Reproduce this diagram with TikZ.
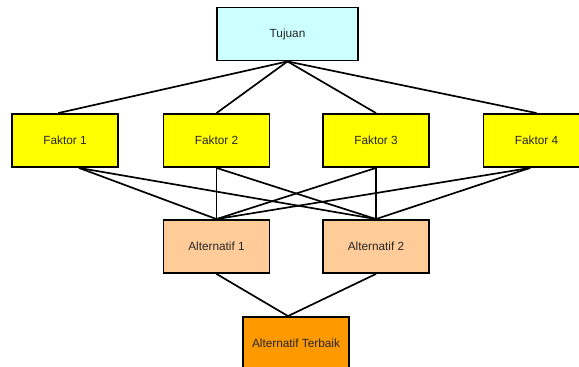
\documentclass[tikz,border=0pt]{standalone}
\usepackage{fontspec}
\setmainfont{Liberation Sans}
\definecolor{tujuanfill}{RGB}{204,255,255}
\definecolor{faktorfill}{RGB}{255,255,0}
\definecolor{altfill}{RGB}{255,204,153}
\definecolor{terbaikfill}{RGB}{255,153,0}

\begin{document}
\begin{tikzpicture}[x=0.025cm,y=-0.025cm,
    kotak/.style={draw=black,line width=1.3pt,minimum width=2.65cm,minimum height=1.325cm,
      inner sep=0pt,font=\fontsize{8.4}{10}\selectfont,text=black!85},
    garis/.style={line width=1.2pt}]
      \useasboundingbox (0,0) rectangle (579,367);

      \node[kotak,fill=tujuanfill,minimum width=3.525cm] (tujuan) at (287.5,34) {Tujuan};
      \node[kotak,fill=faktorfill] (f1) at (65,140.5) {Faktor 1};
      \node[kotak,fill=faktorfill] (f2) at (216.5,140.5) {Faktor 2};
      \node[kotak,fill=faktorfill] (f3) at (376,140.5) {Faktor 3};
      \node[kotak,fill=faktorfill] (f4) at (536.5,140.5) {Faktor 4};
      \node[kotak,fill=altfill] (a1) at (216.5,246.5) {Alternatif 1};
      \node[kotak,fill=altfill] (a2) at (376,246.5) {Alternatif 2};
      \node[kotak,fill=terbaikfill] (terbaik) at (296,343.5) {Alternatif Terbaik};

      % titik sambung yang tidak di tengah kotak
      \coordinate (f1atas) at ([xshift=-0.17cm]f1.north);
      \coordinate (f1bawah) at ([xshift=0.35cm]f1.south);
      \coordinate (f4bawah) at ([xshift=-0.16cm]f4.south);
      \coordinate (terbaikatas) at ([xshift=-0.2cm]terbaik.north);

      \begin{scope}[garis]
        \draw (tujuan.south) -- (f1atas);
        \draw (tujuan.south) -- (f2.north);
        \draw (tujuan.south) -- (f3.north);
        \draw (tujuan.south) -- (f4.north);

        \draw (f1bawah) -- (a1.north);
        \draw (f1bawah) -- (a2.north);
        \draw (f2.south) -- (a1.north);
        \draw (f2.south) -- (a2.north);
        \draw (f3.south) -- (a1.north);
        \draw (f3.south) -- (a2.north);
        \draw (f4bawah) -- (a1.north);
        \draw (f4bawah) -- (a2.north);

        \draw (a1.south) -- (terbaikatas);
        \draw (a2.south) -- (terbaikatas);
      \end{scope}
    \end{tikzpicture}
\end{document}
